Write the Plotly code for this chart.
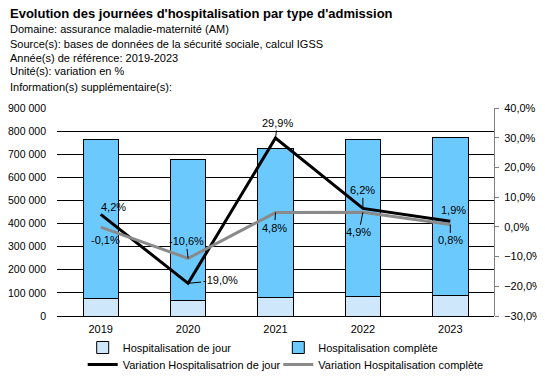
import plotly.graph_objects as go

# ---- data ----
years = ["2019", "2020", "2021", "2022", "2023"]
hosp_jour = [75000, 65000, 81000, 85000, 90000]
hosp_complete = [690600, 614000, 645600, 680600, 684000]
var_jour = [4.2, -19.0, 29.9, 6.2, 1.9]
var_complete = [-0.1, -10.6, 4.8, 4.9, 0.8]

title = "Evolution des journées d'hospitalisation par type d'admission"
subtitles = [
    "Domaine: assurance maladie-maternité (AM)",
    "Source(s): bases de données de la sécurité sociale, calcul IGSS",
    "Année(s) de référence: 2019-2023",
    "Unité(s): variation en %",
    "Information(s) supplémentaire(s):",
]

# ---- layout geometry (pixels) ----
# the page body adds an 8px margin, so the figure is drawn 8px smaller
# and every reference pixel position is shifted by OFF
OFF = 8
W, H = 545 - OFF, 376 - OFF
L, T = 57 - OFF, 108 - OFF
R, B = W - (494 - OFF), H - (316 - OFF)
PW, PH = W - L - R, H - T - B
FONT = "Arial, 'Liberation Sans', sans-serif"


def px2x(px):
    return (px - OFF - L) / PW


def py2y(py):
    return (H - B - (py - OFF)) / PH


fig = go.Figure()
fig.add_trace(go.Bar(
    x=years, y=hosp_jour, name="Hospitalisation de jour",
    marker=dict(color="#cfe7fb", line=dict(color="black", width=1)),
    legend="legend", hoverinfo="skip",
))
fig.add_trace(go.Bar(
    x=years, y=hosp_complete, name="Hospitalisation complète",
    marker=dict(color="#6cc9fd", line=dict(color="black", width=1)),
    legend="legend2", hoverinfo="skip",
))
fig.add_trace(go.Scatter(
    x=years, y=var_jour, yaxis="y2", mode="lines",
    name="Variation Hospitalisatrion de jour",
    line=dict(color="black", width=3), legend="legend3",
))
fig.add_trace(go.Scatter(
    x=years, y=var_complete, yaxis="y2", mode="lines",
    name="Variation Hospitalisation complète",
    line=dict(color="#8a8a8a", width=3), legend="legend4",
))

# data labels (pixel offsets from the point, leader line shown or not)
jour_offsets = [(13, -7, False), (32, -3, True), (2, -15, True), (0, -18, True), (3, -11, False)]
comp_offsets = [(5, 13, False), (-2, -17, True), (-1, 15, True), (-4, 20, True), (0, 16, True)]

annotations = []
for series, offs in ((var_jour, jour_offsets), (var_complete, comp_offsets)):
    for i, (v, (ax, ay, lead)) in enumerate(zip(series, offs)):
        annotations.append(dict(
            x=i, y=v, xref="x", yref="y2",
            text=f"{v:.1f}%".replace(".", ","),
            showarrow=True, ax=ax, ay=ay, arrowhead=0, arrowwidth=1,
            arrowcolor="black" if lead else "rgba(0,0,0,0)", standoff=0,
            font=dict(family=FONT, size=11, color="black"),
        ))

annotations.append(dict(
    x=px2x(8), y=py2y(13.5), xref="paper", yref="paper", xanchor="left", yanchor="middle",
    text=f"<b>{title}</b>", showarrow=False,
    font=dict(family=FONT, size=13, color="black"),
))
sub_y = [29, 43.7, 57.5, 71.2, 86.5]
for s, yy in zip(subtitles, sub_y):
    annotations.append(dict(
        x=px2x(8), y=py2y(yy), xref="paper", yref="paper", xanchor="left", yanchor="middle",
        text=s, showarrow=False, font=dict(family=FONT, size=11, color="black"),
    ))

legend_common = dict(
    orientation="h", xref="container", yref="container",
    xanchor="left", yanchor="top", itemwidth=30,
    font=dict(family=FONT, size=11), bgcolor="rgba(0,0,0,0)",
)
col_x = [(82.7 - OFF) / W, (278.3 - OFF) / W]
row_y = [1 - (333 - OFF) / H, 1 - (350 - OFF) / H]

fig.update_layout(
    width=W, height=H, margin=dict(l=L, r=R, t=T, b=B, pad=0, autoexpand=False),
    paper_bgcolor="white", plot_bgcolor="white",
    barmode="stack", bargap=0.595,
    separators=", ",
    font=dict(family=FONT, size=11, color="black"),
    showlegend=True,
    annotations=annotations,
    xaxis=dict(
        type="category", showgrid=False, showline=False, ticks="",
        tickfont=dict(size=11), ticklabelstandoff=5, automargin=False,
    ),
    yaxis=dict(
        range=[0, 900000], dtick=100000, tickformat=",.0f",
        showgrid=True, gridcolor="black", gridwidth=1,
        zeroline=True, zerolinecolor="black", zerolinewidth=1,
        showline=False, ticks="", ticklabelstandoff=10,
        tickfont=dict(size=10.5), automargin=False,
    ),
    yaxis2=dict(
        overlaying="y", side="right", range=[-30, 40], dtick=10,
        tickformat=".1f", ticksuffix="%", showgrid=False, zeroline=False,
        showline=True, linecolor="#808080", linewidth=1,
        ticks="outside", ticklen=4, tickcolor="#808080",
        ticklabelstandoff=3, tickfont=dict(size=11), automargin=False,
    ),
    legend=dict(legend_common, x=col_x[0], y=row_y[0]),
    legend2=dict(legend_common, x=col_x[1], y=row_y[0]),
    legend3=dict(legend_common, x=col_x[0], y=row_y[1]),
    legend4=dict(legend_common, x=col_x[1], y=row_y[1]),
)

fig.write_html("out.html")
